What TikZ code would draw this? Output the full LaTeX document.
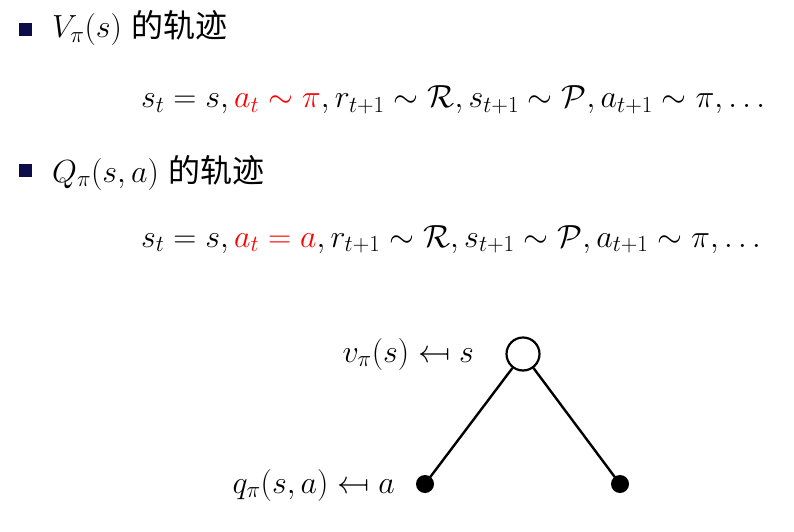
\documentclass[tikz,border=0pt]{standalone}
\usepackage{fix-cm}
\usepackage{fontspec}
\usepackage{amsmath,amssymb}
\usepackage{graphicx}
\DeclareMathSizes{32}{32}{23}{16.5}
\newfontfamily\cjk{Noto Sans CJK SC}
\newcommand{\mymapsfrom}{\mathrel{\reflectbox{$\mapsto$}}}
\definecolor{bulletnavy}{RGB}{12,12,72}
\begin{document}
\begin{tikzpicture}[x=1pt,y=-1pt,
  txt/.style={anchor=base west,inner sep=0pt,font=\fontsize{32}{38}\selectfont},
  lbl/.style={anchor=base east,inner sep=0pt,font=\fontsize{32}{38}\selectfont},
  bsq/.style={fill=bulletnavy,minimum size=13pt,inner sep=0pt,draw=none},
  opennode/.style={circle,draw,line width=2.2pt,minimum size=33pt,inner sep=0pt,fill=white},
  dotnode/.style={circle,fill=black,minimum size=18pt,inner sep=0pt},
  edge/.style={line width=2.4pt}]
\useasboundingbox (0,0) rectangle (794,532);
\node[bsq] (b1) at (25,30) {};
\node[txt] (t1) at (52,38) {$V_\pi(s)$\ {\cjk 的轨迹}};
\node[txt] (m1) at (141,108) {$s_t = s, \textcolor{red}{a_t \sim \pi}, r_{t+1}\sim\mathcal{R}, s_{t+1}\sim\mathcal{P}, a_{t+1}\sim\pi,\ldots$};
\node[bsq] (b2) at (25,170) {};
\node[txt] (t2) at (52,182) {$Q_\pi(s,a)$\ {\cjk 的轨迹}};
\node[txt] (m2) at (141,247) {$s_t = s, \textcolor{red}{a_t = a}, r_{t+1}\sim\mathcal{R}, s_{t+1}\sim\mathcal{P}, a_{t+1}\sim\pi,\ldots$};
\node[opennode] (root) at (523,354) {};
\node[dotnode] (dl) at (425,484) {};
\node[dotnode] (dr) at (620,484) {};
\draw[edge] (root) -- (dl.center);
\draw[edge] (root) -- (dr.center);
\node[lbl] (lv) at (474,362) {$v_\pi(s) \mymapsfrom s$};
\node[lbl] (lq) at (395,493) {$q_\pi(s,a) \mymapsfrom a$};
\end{tikzpicture}
\end{document}
